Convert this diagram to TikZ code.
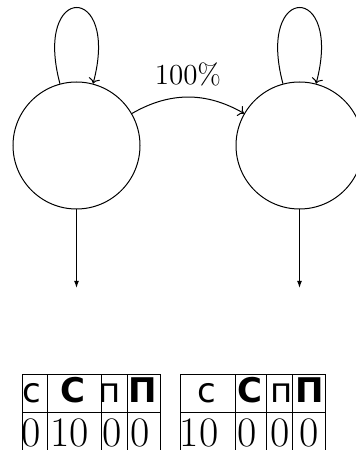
\documentclass[tikz,border=0pt]{standalone}
\usepackage{fontspec}
\newfontfamily\hdrfont{DejaVu Sans}
\usetikzlibrary{arrows.meta}
\begin{document}
\begin{tikzpicture}[x=0.5pt,y=0.5pt,line width=0.5pt,
  state/.style={circle,draw,minimum size=63.5pt,inner sep=0pt},
  hd/.style={anchor=base,inner sep=0pt,font=\hdrfont\fontsize{17}{20}\selectfont},
  hdb/.style={anchor=base,inner sep=0pt,font=\hdrfont\bfseries\fontsize{17}{20}\selectfont},
  num/.style={anchor=base,inner sep=0pt,font=\fontsize{21}{25}\selectfont},
  lbl/.style={font=\fontsize{14.5}{17}\selectfont},
  downarrow/.style={-{Latex[length=3.5pt,width=2.4pt]}}]
\useasboundingbox (0,0) rectangle (355,450);
% states
\node[state] (a) at (76.5,304.5) {};
\node[state] (b) at (299.5,304.5) {};
% self loops
\draw[->] (a.105) .. controls +(105:105) and +(75:105) .. (a.75);
\draw[->] (b.105) .. controls +(105:105) and +(75:105) .. (b.75);
% transition
\draw[->] (a) to[bend left=30] node[above,inner sep=0pt,yshift=5pt,lbl] (p) {100\%} (b);
% exits
\coordinate (ea) at (76.5,162);
\coordinate (eb) at (299.5,162);
\draw[downarrow] (a.south) -- (ea);
\draw[downarrow] (b.south) -- (eb);
% left table
\draw (22.5,75) rectangle (160.5,-5);
\draw (22.5,37.3) -- (160.5,37.3);
\foreach \xx in {47.5,101,127.3} \draw (\xx,75) -- (\xx,-5);
\node[hd]  (l1) at (31.5,47) {с};
\node[hdb] (l2) at (72.5,47) {С};
\node[hd]  (l3) at (109.5,47) {п};
\node[hdb] (l4) at (142.5,47) {П};
\node[num] (l5) at (31.5,3.5) {0};
\node[num] (l6) at (69.5,3.5) {10};
\node[num] (l7) at (112,3.5) {0};
\node[num] (l8) at (140,3.5) {0};
% right table
\draw (180,75) rectangle (325,-5);
\draw (180,37.3) -- (325,37.3);
\foreach \xx in {235,266.7,292.3} \draw (\xx,75) -- (\xx,-5);
\node[hd]  (r1) at (206.7,47) {с};
\node[hdb] (r2) at (250,47) {С};
\node[hd]  (r3) at (281.7,47) {п};
\node[hdb] (r4) at (309.7,47) {П};
\node[num] (r5) at (199,3.5) {10};
\node[num] (r6) at (247.5,3.5) {0};
\node[num] (r7) at (280.3,3.5) {0};
\node[num] (r8) at (309.2,3.5) {0};
\end{tikzpicture}
\end{document}
